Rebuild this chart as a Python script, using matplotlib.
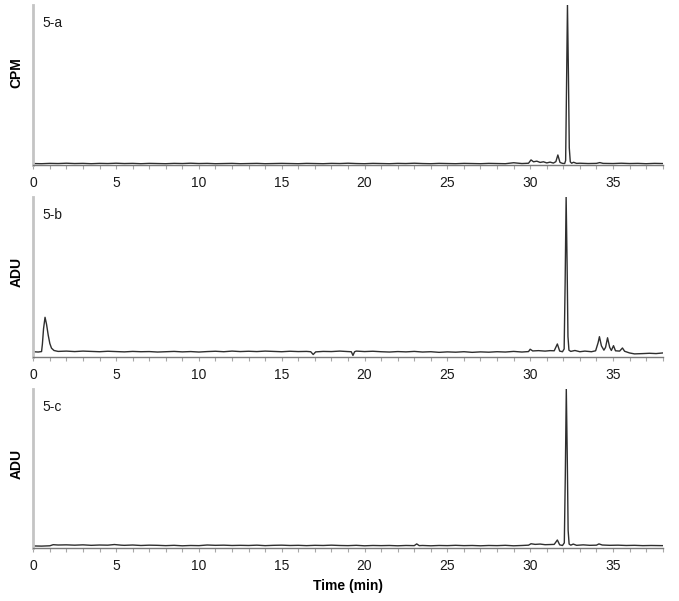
import matplotlib
matplotlib.use("Agg")
import matplotlib.pyplot as plt
from matplotlib.ticker import MultipleLocator

plt.rcParams['font.family'] = ['Liberation Sans', 'DejaVu Sans']

# chromatogram traces, intensity in % of the main peak
a_time = [0.0, 0.5, 1.0, 1.5, 2.0, 2.5, 3.0, 3.5, 4.0, 4.5, 5.0, 5.5, 6.0, 6.5,
          7.0, 7.5, 8.0, 8.5, 9.0, 9.5, 10.0, 10.5, 11.0, 11.5, 12.0, 12.5,
          13.0, 13.5, 14.0, 14.5, 15.0, 15.5, 16.0, 16.5, 17.0, 17.5, 18.0,
          18.5, 19.0, 19.5, 20.0, 20.5, 21.0, 21.5, 22.0, 22.5, 23.0, 23.5,
          24.0, 24.5, 25.0, 25.5, 26.0, 26.5, 27.0, 27.5, 28.0, 28.5, 29.0,
          29.5, 29.9, 30.05, 30.2, 30.4, 30.6, 30.8, 31.0, 31.2, 31.4, 31.55,
          31.67, 31.8, 31.95, 32.08, 32.14, 32.19, 32.25, 32.31, 32.36, 32.42,
          32.5, 32.62, 32.8, 33.0, 33.5, 34.0, 34.2, 34.4, 35.0, 35.5, 36.0,
          36.5, 37.0, 37.5, 38.0]
a_signal = [0.1, 0.0, 0.2, 0.1, 0.3, 0.1, 0.2, 0.0, 0.2, 0.1, 0.3, 0.1, 0.2, 0.0,
            0.2, 0.1, 0.0, 0.2, 0.1, 0.3, 0.1, 0.2, 0.0, 0.1, 0.2, 0.0,
            0.1, 0.2, 0.0, 0.1, 0.2, 0.1, 0.0, 0.2, 0.1, 0.0, 0.2,
            0.1, 0.3, 0.1, 0.0, 0.2, 0.1, 0.0, 0.2, 0.1, 0.3, 0.1,
            0.0, 0.2, 0.1, 0.0, 0.2, 0.1, 0.0, 0.2, 0.1, 0.0, 0.6,
            0.1, 0.3, 2.4, 1.2, 1.6, 0.8, 1.2, 0.5, 1.0, 0.4, 1.3,
            5.5, 0.8, 0.2, 0.1, 2.0, 45.0, 100.0, 55.0, 10.0, 1.2,
            0.3, 0.9, 0.2, 0.3, 0.1, 0.2, 0.7, 0.2, 0.1, 0.3, 0.1,
            0.2, 0.0, 0.2, 0.1]

b_time = [0.0, 0.3, 0.5, 0.55, 0.62, 0.71, 0.8, 0.9, 1.0, 1.1, 1.25, 1.5, 2.0,
          2.5, 3.0, 3.5, 4.0, 4.5, 5.0, 5.5, 6.0, 6.5, 7.0, 7.5, 8.0, 8.5,
          9.0, 9.5, 10.0, 10.5, 11.0, 11.5, 12.0, 12.5, 13.0, 13.5, 14.0,
          14.5, 15.0, 15.5, 16.0, 16.5, 16.75, 16.9, 17.05, 17.5, 18.0, 18.5,
          19.0, 19.2, 19.3, 19.4, 19.5, 20.0, 20.5, 21.0, 21.5, 22.0, 22.5,
          23.0, 23.5, 24.0, 24.5, 25.0, 25.5, 26.0, 26.5, 27.0, 27.5, 28.0,
          28.5, 29.0, 29.5, 29.9, 30.0, 30.15, 30.5, 30.9, 31.2, 31.45, 31.64,
          31.78, 31.95, 32.05, 32.11, 32.17, 32.23, 32.28, 32.34, 32.45, 32.7,
          33.0, 33.3, 33.7, 33.95, 34.1, 34.18, 34.3, 34.45, 34.55, 34.67,
          34.8, 34.9, 35.03, 35.15, 35.4, 35.57, 35.7, 36.0, 36.3, 36.8, 37.2,
          37.6, 38.0]
b_signal = [0.2, 0.0, 0.3, 5.0, 15.0, 22.4, 18.0, 11.0, 5.5, 2.5, 1.0, 0.4, 0.6,
            0.3, 0.6, 0.4, 0.2, 0.5, 0.3, 0.1, 0.4, 0.2, 0.3, 0.0, 0.2, 0.4,
            0.1, 0.3, 0.0, 0.3, 0.5, 0.2, 0.6, 0.3, 0.5, 0.3, 0.6,
            0.4, 0.2, 0.5, 0.3, 0.4, 0.2, -1.6, 0.1, 0.4, 0.3, 0.6,
            0.3, 0.2, -2.2, 0.2, 0.6, 0.3, 0.5, 0.2, 0.0, 0.3, 0.1,
            0.4, 0.0, 0.2, -0.2, 0.1, -0.1, 0.2, -0.2, 0.1, -0.1, 0.2,
            0.0, 0.4, 0.0, 0.3, 1.8, 0.7, 0.9, 0.6, 0.9, 0.8, 5.2,
            0.6, 0.2, 2.0, 45.0, 100.0, 55.0, 10.0, 1.2, 0.4, 1.0,
            0.2, 0.6, 0.2, 0.8, 6.0, 9.9, 4.0, 1.2, 3.0, 9.2,
            3.0, 1.0, 4.1, 0.8, 0.6, 2.6, 0.5, -0.6, -1.2, -1.0, -0.8,
            -1.0, -0.6]

c_time = [0.0, 0.5, 1.0, 1.2, 1.5, 2.0, 2.5, 3.0, 3.5, 4.0, 4.5, 4.9, 5.3, 5.5,
          6.0, 6.5, 7.0, 7.5, 8.0, 8.5, 9.0, 9.5, 10.0, 10.5, 11.0, 11.5,
          12.0, 12.5, 13.0, 13.5, 14.0, 14.5, 15.0, 15.5, 16.0, 16.5, 17.0,
          17.5, 18.0, 18.5, 19.0, 19.5, 20.0, 20.5, 21.0, 21.5, 22.0, 22.5,
          23.0, 23.15, 23.3, 23.5, 24.0, 24.5, 25.0, 25.5, 26.0, 26.5, 27.0,
          27.5, 28.0, 28.5, 29.0, 29.5, 29.9, 30.05, 30.3, 30.6, 30.9, 31.2,
          31.45, 31.64, 31.78, 31.95, 32.06, 32.12, 32.18, 32.24, 32.29, 32.35,
          32.45, 32.6, 32.8, 33.2, 33.6, 34.0, 34.15, 34.35, 34.8, 35.3, 35.8,
          36.3, 36.8, 37.3, 38.0]
c_signal = [0.0, -0.1, 0.1, 0.8, 0.6, 0.7, 0.5, 0.7, 0.4, 0.6, 0.5, 0.9, 0.5, 0.4,
            0.6, 0.3, 0.5, 0.4, 0.2, 0.4, 0.1, 0.3, 0.2, 0.6, 0.4, 0.5,
            0.3, 0.4, 0.3, 0.5, 0.2, 0.4, 0.5, 0.3, 0.4, 0.2, 0.4,
            0.3, 0.5, 0.3, 0.2, 0.4, 0.1, 0.3, 0.2, 0.3, 0.1, 0.3,
            0.2, 1.3, 0.2, 0.3, 0.1, 0.3, 0.2, 0.4, 0.2, 0.3, 0.1,
            0.3, 0.2, 0.4, 0.1, 0.3, 0.5, 1.4, 1.0, 1.2, 0.8, 0.9,
            1.0, 3.8, 0.7, 0.3, 2.0, 45.0, 100.0, 55.0, 10.0, 1.2,
            0.5, 1.2, 0.4, 0.7, 0.4, 0.5, 1.3, 0.6, 0.4, 0.5, 0.3,
            0.4, 0.2, 0.3, 0.2]

panel_tags = ["5-a", "5-b", "5-c"]
y_labels = ["CPM", "ADU", "ADU"]
x_ticks = [0, 5, 10, 15, 20, 25, 30, 35]

traces = [(a_time, a_signal), (b_time, b_signal), (c_time, c_signal)]
y_bottoms = [-0.8, -3.2, -1.3]
label_y = [0.58, 0.53, 0.53]
# axes rectangles in figure fraction (left, bottom, width, height)
boxes = [(0.049, 0.7255, 0.927, 0.2662),
         (0.049, 0.4060, 0.927, 0.2662),
         (0.049, 0.0882, 0.927, 0.2645)]

fig = plt.figure(figsize=(6.79, 6.01), dpi=100)

for i, (t, s) in enumerate(traces):
    ax = fig.add_axes(boxes[i])
    ax.plot(t, s, color='#2e2e2e', lw=1.0)
    ax.set_xlim(0, 38)
    ax.set_ylim(y_bottoms[i], 100)

    ax.spines['top'].set_visible(False)
    ax.spines['right'].set_visible(False)
    ax.spines['left'].set_color('#c4c4c4')
    ax.spines['left'].set_linewidth(2)
    ax.spines['bottom'].set_color('#7a7a7a')
    ax.spines['bottom'].set_linewidth(1)

    ax.set_yticks([])
    ax.set_xticks(x_ticks)
    ax.xaxis.set_minor_locator(MultipleLocator(1))
    ax.tick_params(axis='x', which='both', direction='out', length=3,
                   width=0.8, color='#a8a8a8', pad=5, labelsize=10,
                   labelcolor='#1a1a1a')

    ax.set_ylabel(y_labels[i], fontsize=10, fontweight='bold')
    ax.yaxis.set_label_coords(-0.016, label_y[i])

    ax.text(0.015, 0.8625, panel_tags[i], transform=ax.transAxes,
            fontsize=10, va='baseline', ha='left', color='#1a1a1a')

    if i == 2:
        ax.set_xlabel("Time (min)", fontsize=10, fontweight='bold', labelpad=4)

fig.savefig("out.png", dpi=100)
